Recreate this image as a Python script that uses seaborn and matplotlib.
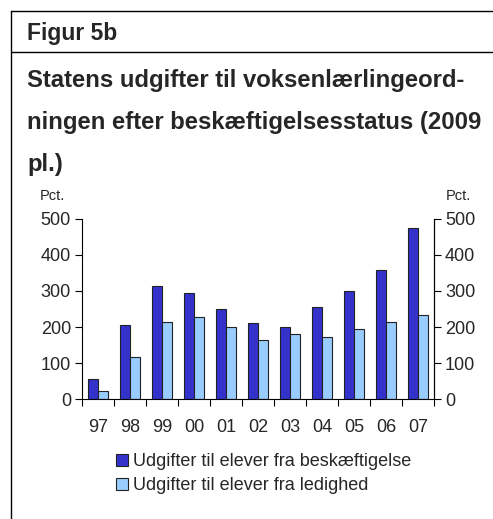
import matplotlib
matplotlib.use('Agg')
import matplotlib.pyplot as plt
import pandas as pd
import seaborn as sns
from matplotlib.lines import Line2D

# Data
years = ['97', '98', '99', '00', '01', '02', '03', '04', '05', '06', '07']
employed = [56, 206, 315, 294, 249, 212, 201, 256, 301, 357, 474]
unemployed = [24, 118, 215, 229, 199, 164, 181, 172, 195, 215, 234]
series_names = ['Udgifter til elever fra beskæftigelse',
                'Udgifter til elever fra ledighed']
colors = ['#3333CC', '#99CCFF']

df = pd.DataFrame({
    'year': years * 2,
    'value': employed + unemployed,
    'series': [series_names[0]] * len(years) + [series_names[1]] * len(years),
})

sns.set_style('white')
plt.rcParams['font.family'] = ['Liberation Sans', 'DejaVu Sans']

fig = plt.figure(figsize=(4.93, 5.19), dpi=100)
ax = fig.add_axes([82 / 493, 1 - 399.3 / 519, 352 / 493, 180.6 / 519])

sns.barplot(data=df, x='year', y='value', hue='series', palette=colors,
            width=0.6, edgecolor='#222222', linewidth=0.8, ax=ax,
            legend=False, saturation=1)

ax.set_ylim(0, 500)
ax.set_xlim(-0.5, len(years) - 0.5)
ax.set_yticks([0, 100, 200, 300, 400, 500])
ax.set_xlabel('')
ax.set_ylabel('')
ax.set_xticks(range(len(years)))
ax.set_xticklabels(years)
ax.tick_params(axis='x', length=0, pad=14, labelsize=13)
ax.tick_params(axis='y', direction='out', length=5, width=0.8, labelsize=13,
               left=True, color='black', pad=3)
# category boundary ticks on x-axis
ax.set_xticks([i - 0.5 for i in range(len(years) + 1)], minor=True)
ax.tick_params(axis='x', which='minor', direction='out', length=5, width=0.8,
               bottom=True, color='black')
ax.spines['top'].set_visible(False)
for s in ['left', 'bottom', 'right']:
    ax.spines[s].set_visible(True)
    ax.spines[s].set_color('black')
    ax.spines[s].set_linewidth(0.8)

ax2 = ax.twinx()
ax2.set_ylim(0, 500)
ax2.set_yticks([0, 100, 200, 300, 400, 500])
ax2.tick_params(axis='y', direction='out', length=5, width=0.8, labelsize=13,
                right=True, color='black', pad=3)
for s in ['top', 'left', 'bottom']:
    ax2.spines[s].set_visible(False)
ax2.spines['right'].set_color('black')
ax2.spines['right'].set_linewidth(0.8)

fig.text(40 / 493, 1 - 196 / 519, 'Pct.', fontsize=10.5, va='center', ha='left')
fig.text(471 / 493, 1 - 196 / 519, 'Pct.', fontsize=10.5, va='center', ha='right')

# header texts
fig.text(27 / 493, 1 - 40 / 519, 'Figur 5b', fontsize=16.5, fontweight='bold',
         va='baseline')
title_lines = ['Statens udgifter til voksenlærlingeord-',
               'ningen efter beskæftigelsesstatus (2009',
               'pl.)']
for i, line in enumerate(title_lines):
    fig.text(27 / 493, 1 - (87 + 42 * i) / 519, line, fontsize=17.2,
             fontweight='bold', va='baseline')

# frame lines
fig.add_artist(Line2D([11 / 493, 1], [1 - 11 / 519, 1 - 11 / 519],
                      color='black', lw=1, transform=fig.transFigure))
fig.add_artist(Line2D([11 / 493, 1], [1 - 52 / 519, 1 - 52 / 519],
                      color='black', lw=1, transform=fig.transFigure))
fig.add_artist(Line2D([11 / 493, 11 / 493], [0, 1 - 11 / 519],
                      color='black', lw=1, transform=fig.transFigure))

# legend
handles = [plt.Rectangle((0, 0), 1, 1, facecolor=c, edgecolor='#222222', lw=0.8)
           for c in colors]
fig.legend(handles, series_names, loc='upper left',
           bbox_to_anchor=(116 / 493, 1 - 453 / 519), frameon=False,
           fontsize=13, handlelength=0.65, handleheight=0.65,
           handletextpad=0.3, labelspacing=0.4, borderaxespad=0,
           borderpad=0)

fig.savefig('out.png', dpi=100)
